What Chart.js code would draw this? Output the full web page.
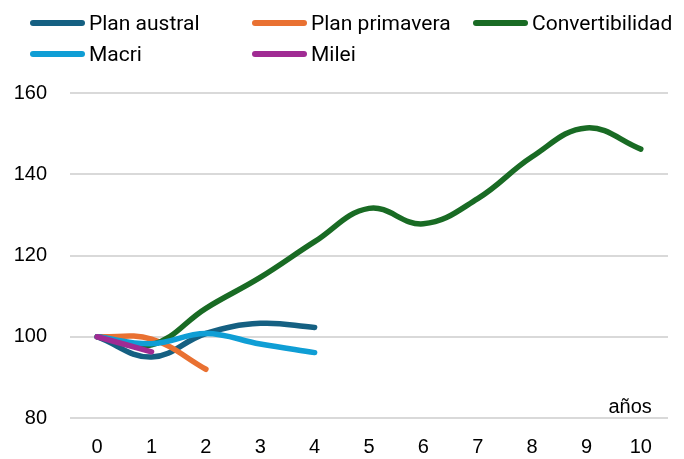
<!DOCTYPE html>
<html><head><meta charset="utf-8">
<script src="https://cdn.jsdelivr.net/npm/chart.js@4"></script>
<style>
html,body{margin:0;padding:0;background:#fff;}
#wrap{position:relative;width:684px;height:459px;overflow:hidden;}
canvas{position:absolute;left:0;top:0;}
.leg{position:absolute;display:flex;align-items:center;font-family:Roboto,"Liberation Sans",sans-serif;font-size:21px;color:#000;white-space:nowrap;line-height:1;}
.leg .sw{display:inline-block;width:55px;height:6px;border-radius:3px;margin-right:4px;}
</style></head><body>
<div id="wrap"><canvas id="c" width="684" height="459"></canvas><div id="legend"></div></div>
<script>
// ---- data ----
const categories = ['0','1','2','3','4','5','6','7','8','9','10'];
const seriesNames = ['Plan austral','Plan primavera','Convertibilidad','Macri','Milei'];
const seriesColors = ['#156082','#E97132','#196B24','#0F9ED5','#A02B93'];
const planAustral = [100, 95, 100.8, 103.3, 102.3];
const planPrimavera = [100, 99.4, 92];
const convertibilidad = [100, 98, 107, 114.6, 123.4, 131.6, 127.8, 134, 144.3, 151.4, 146.2];
const macri = [100, 98.3, 100.8, 98.2, 96.1];
const milei = [100, 96.3];
const yTicks = [80, 100, 120, 140, 160];
const xAxisLabel = 'años';

const seriesValues = [planAustral, planPrimavera, convertibilidad, macri, milei];

const datasets = seriesNames.map((name, i) => ({
  label: name,
  data: seriesValues[i],
  borderColor: seriesColors[i],
  backgroundColor: seriesColors[i],
  borderWidth: 5.5,
  borderCapStyle: 'round',
  borderJoinStyle: 'round',
  pointRadius: 0,
  pointHoverRadius: 0,
  tension: 0.4,
  fill: false,
  order: seriesNames.length - i
}));

// ---- HTML legend (3 columns, 2 rows) ----
const legCols = [30, 252, 473];
const legRows = [23, 54];
const legendEl = document.getElementById('legend');
seriesNames.forEach((name, i) => {
  const d = document.createElement('div');
  d.className = 'leg';
  d.style.left = legCols[i % 3] + 'px';
  d.style.top = (legRows[Math.floor(i / 3)] - 12) + 'px';
  d.style.height = '24px';
  const sw = document.createElement('span');
  sw.className = 'sw';
  sw.style.background = seriesColors[i];
  const t = document.createElement('span');
  t.textContent = name;
  d.appendChild(sw); d.appendChild(t);
  legendEl.appendChild(d);
});

const axisLabelPlugin = {
  id: 'axisLabel',
  afterDraw(chart) {
    const ctx = chart.ctx, xs = chart.scales.x, ys = chart.scales.y;
    ctx.save();
    ctx.font = '20px "Liberation Sans", Arial, sans-serif';
    ctx.fillStyle = '#000';
    ctx.textAlign = 'right';
    ctx.textBaseline = 'alphabetic';
    ctx.fillText(xAxisLabel, xs.getPixelForValue(categories.length - 1) + 11, ys.getPixelForValue(yTicks[0]) - 5);
    ctx.restore();
  }
};

new Chart(document.getElementById('c'), {
  type: 'line',
  data: { labels: categories, datasets },
  plugins: [axisLabelPlugin],
  options: {
    responsive: false,
    animation: false,
    devicePixelRatio: 1,
    layout: { padding: { top: 93, left: 13, right: 16, bottom: 2 } },
    plugins: { legend: { display: false }, tooltip: { enabled: false } },
    scales: {
      x: {
        type: 'category',
        offset: true,
        grid: { display: false, drawTicks: false },
        border: { display: false },
        afterFit(scale) { scale.height = 39; },
        ticks: { color: '#000', padding: 19, font: { family: '"Liberation Sans", Arial, sans-serif', size: 20, lineHeight: 1 } }
      },
      y: {
        min: yTicks[0],
        max: yTicks[yTicks.length - 1],
        afterBuildTicks(scale) { scale.ticks = yTicks.map(v => ({ value: v })); },
        afterFit(scale) { scale.width = 57; },
        grid: { color: '#d9d9d9', lineWidth: 2, drawTicks: false },
        border: { display: false },
        ticks: { color: '#000', padding: 23, font: { family: '"Liberation Sans", Arial, sans-serif', size: 20 } }
      }
    }
  }
});
</script>
</body></html>
